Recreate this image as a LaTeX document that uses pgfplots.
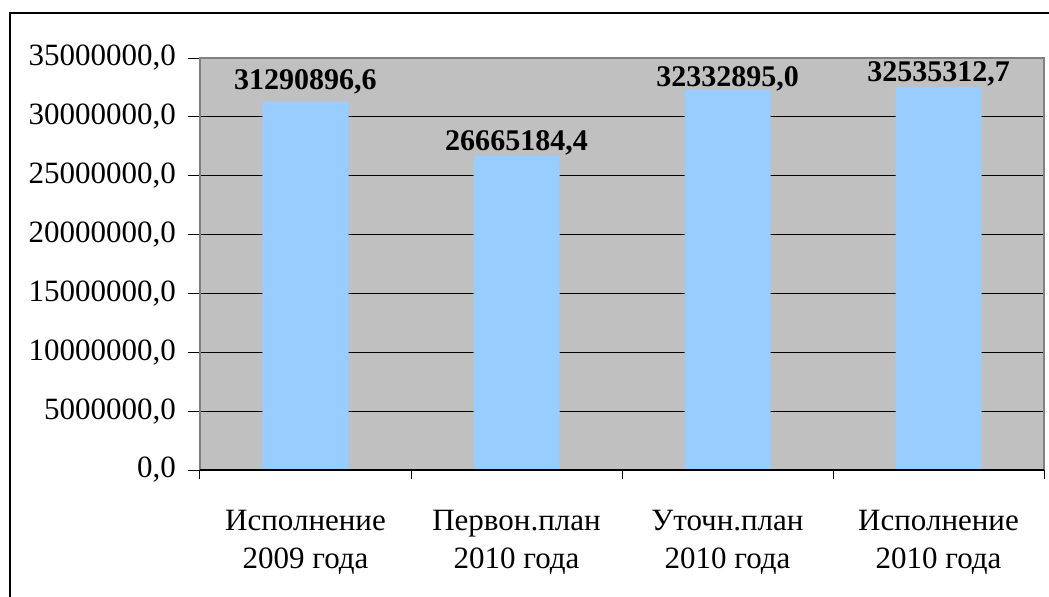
\documentclass[border=0pt]{standalone}
\usepackage{pgfplots}
\pgfplotsset{compat=1.18}
\usepackage{fontspec}
\setmainfont{Liberation Serif}
\definecolor{barblue}{HTML}{99CCFF}
\definecolor{plotgray}{HTML}{C0C0C0}
\definecolor{framegray}{HTML}{808080}
\begin{document}
\begin{tikzpicture}
\useasboundingbox (0,0) rectangle (524.5pt,298pt);
% outer chart frame (cut off at right and bottom)
\draw[line width=0.7pt] (5pt,-10pt) -- (5pt,291.5pt) -- (540pt,291.5pt);
\begin{axis}[
    at={(100pt,63pt)}, anchor=south west,
    scale only axis,
    width=422pt, height=206pt,
    xmin=-0.5, xmax=3.5,
    ymin=0, ymax=35000000,
    axis background/.style={fill=plotgray},
    axis line style={draw=framegray, line width=0.6pt},
    ytick={0,5000000,...,35000000},
    scaled y ticks=false,
    /pgf/number format/assume math mode=true,
    yticklabel style={
        /pgf/number format/fixed,
        /pgf/number format/fixed zerofill,
        /pgf/number format/precision=1,
        /pgf/number format/use comma,
        /pgf/number format/1000 sep={},
        font=\fontsize{15.5}{18}\selectfont,
        xshift=-2.5pt,
    },
    ymajorgrids,
    major grid style={black, line width=0.5pt},
    ytick style={black, line width=0.5pt},
    tick align=outside,
    xtick pos=bottom, ytick pos=left,
    major tick length=6pt,
    xtick={0,1,2,3},
    xticklabels={{Исполнение\\2009 года},{Первон.план\\2010 года},{Уточн.план\\2010 года},{Исполнение\\2010 года}},
    xticklabel style={align=center, font=\fontsize{15.5}{19}\selectfont, yshift=-10.5pt},
    xtick style={draw=none},
    extra x ticks={-0.5,0.5,1.5,2.5,3.5},
    extra x tick labels={},
    extra x tick style={grid=none, xtick style={draw=black, line width=0.5pt}, major tick length=4.5pt},
    clip=false,
]
\addplot[ybar, bar width=43pt, fill=barblue, draw=none] coordinates {
    (0,31290896.6)
    (1,26665184.4)
    (2,32332895.0)
    (3,32535312.7)
};
\draw[black, line width=0.6pt] (axis cs:-0.5,0) -- (axis cs:3.5,0);
\begin{scope}[every node/.style={anchor=base, font=\fontsize{15}{18}\selectfont\bfseries, inner sep=0pt}]
\node[yshift=6.2pt] at (axis cs:0,31290896.6) {31290896,6};
\node[yshift=2.8pt] at (axis cs:1,26665184.4) {26665184,4};
\node[yshift=1.3pt] at (axis cs:2,32332895.0) {32332895,0};
\node[yshift=2.8pt] at (axis cs:3,32535312.7) {32535312,7};
\end{scope}
\end{axis}
\end{tikzpicture}
\end{document}
